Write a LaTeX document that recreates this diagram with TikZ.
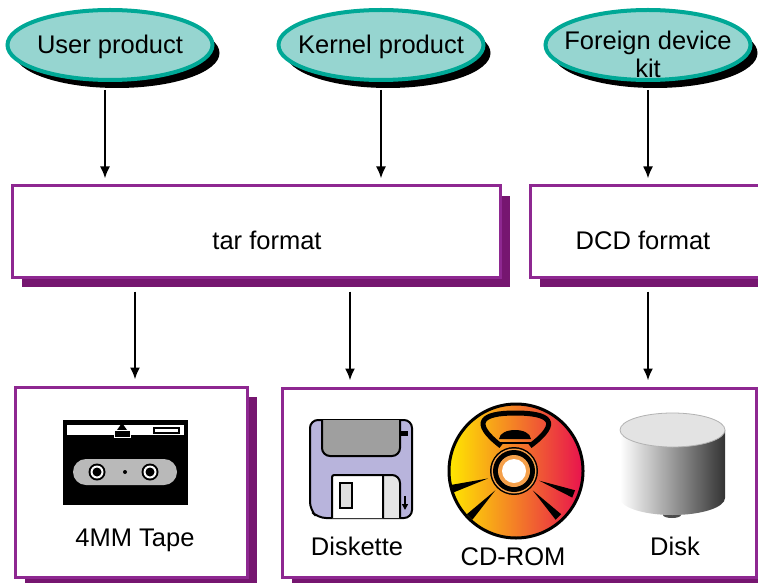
\documentclass[tikz,border=0pt]{standalone}
\usepackage{fontspec}
\setmainfont{Liberation Sans}
\usetikzlibrary{shapes.geometric,shadows,arrows.meta}
\definecolor{tealfill}{HTML}{96D5D0}
\definecolor{tealline}{HTML}{00A896}
\definecolor{boxline}{HTML}{8E2891}
\definecolor{boxshadow}{HTML}{761670}
\definecolor{diskblue}{HTML}{B8B4DC}
\definecolor{cdyellow}{HTML}{FFE800}
\definecolor{cdorange}{HTML}{F5A04A}
\definecolor{cdred}{HTML}{E8124E}
\tikzset{
  product/.style={ellipse, draw=tealline, fill=tealfill, line width=2pt,
    minimum width=102.5pt, minimum height=35pt, inner sep=0pt,
    drop shadow={shadow xshift=3.5pt, shadow yshift=-4pt, fill=black, opacity=1}},
  fmtbox/.style={rectangle, draw=boxline, fill=white, line width=1.5pt, inner sep=0pt,
    drop shadow={shadow xshift=5pt, shadow yshift=-5pt, fill=boxshadow, opacity=1}},
  arrtop/.style={line width=1pt, -{Latex[length=6pt,width=5pt]}, shorten <=4pt, shorten >=3pt},
  arrbot/.style={arrtop, shorten <=6.5pt}
}
\begin{document}
\begin{tikzpicture}[x=0.5pt,y=-0.5pt,font=\fontsize{12.75}{14}\selectfont]
    \clip (0,0) rectangle (758,582);
    \node[product] (user) at (110,45) {};
    \node[product] (kernel) at (381,45) {};
    \node[product] (foreign) at (648,45) {};
    \path   (110,47) node (usertxt) {User product}
            (381,47) node (kerneltxt) {Kernel product}
            (648,54) node[align=center] (foreigntxt) {Foreign device\\kit};

    \node[fmtbox, minimum width=244pt, minimum height=45.5pt] (tar) at (256,231.5) {};
    \node[fmtbox, minimum width=116pt, minimum height=45.5pt] (dcd) at (646,231.5) {};
    \path   (267,240) node (tartxt) {tar format}
            (643,240) node (dcdtxt) {DCD format};

    \node[fmtbox, minimum width=116pt, minimum height=95pt] (tape) at (131,482) {};
    \node[fmtbox, minimum width=237pt, minimum height=94.5pt] (media) at (519,482.5) {};
    \path   (135,540) node (tapelbl) {4MM Tape}
            (357,546) node (diskettelbl) {Diskette}
            (513,557) node (cdlbl) {CD-ROM}
            (675,546) node (disklbl) {Disk};

    \draw[arrtop] (user.south -| 105,0) -- (tar.north -| 105,0);
    \draw[arrtop] (kernel.south) -- (kernel.south |- tar.north);
    \draw[arrtop] (foreign.south) -- (foreign.south |- dcd.north);
    \draw[arrbot] (tar.south -| tapelbl) -- (tape.north -| tapelbl);
    \draw[arrbot] (tar.south -| 350,0) -- (media.north -| 350,0);
    \draw[arrbot] (dcd.south -| foreign) -- (media.north -| foreign);

    % tape
    \fill (63,420) rectangle (188,505);
    \fill[white] (67,425) rectangle (184,435);
    \fill (122,423) -- (127,430) -- (117,430) -- cycle;
    \filldraw[draw=white, line width=0.5pt] (114,430) rectangle (130,437);
    \draw[line width=1pt] (154,428) rectangle (179,433);
    \fill[gray!55, rounded corners=6.5pt] (73,459) rectangle (177,485);
    \foreach \x in {97,150} {
        \fill (\x,472) circle (8.5);
        \fill[white] (\x,472) circle (6.5);
        \fill (\x,472) circle (4.5);
    }
    \fill (125,472) circle (2);

    % diskette
    \filldraw[fill=diskblue, line width=1pt, rounded corners=4pt]
        (318,518) -- (310,510) -- (310,420) -- (412,420) -- (412,518) -- cycle;
    \filldraw[fill=gray!75, line width=1pt, rounded corners=4pt]
        (322,420) -- (322,456) -- (400,456) -- (400,420);
    \fill (401,431) rectangle (408,436);
    \filldraw[fill=gray!20, line width=1pt, rounded corners=4pt]
        (332,518) -- (332,475) -- (400,475) -- (400,518);
    \filldraw[fill=white, line width=1pt] (332,518) -- (332,480)
        .. controls (332,475) .. (337,475) -- (383,475) -- (383,518);
    \filldraw[fill=gray!25, line width=0.8pt] (340,483) rectangle (352,508);
    \draw[line width=0.8pt, -{Triangle[length=3pt,width=3pt]}] (405,496) -- (405,510);

    % cd
    \shade[left color=cdyellow, middle color=cdorange, right color=cdred] (516,471) circle (67);
    \draw[line width=2.5pt] (501,446) .. controls (470,422) and (482,413) .. (515,413)
        .. controls (550,413) and (562,422) .. (530,446);
    \fill (499,439) .. controls (500,427) and (530,427) .. (531,439) -- cycle;
    \draw[line width=0.6pt] (497,443) -- (533,443);
    \begin{scope}[shift={(514,471)}]
        \foreach \a in {164,134,21,46}
            \fill (\a:27) -- (\a-3.5:64) -- (\a+3.5:64) -- cycle;
        \fill (0,0) circle (24);
        \fill[cdorange] (0,0) circle (22.5);
        \fill (0,0) circle (21);
        \fill[cdorange] (0,0) circle (16);
        \fill[white] (0,0) circle (12);
    \end{scope}
    \draw[line width=1.5pt] (516,471) circle (67);

    % disk
    \fill[black!70] (672,515) ellipse (9 and 3);
    \shade[left color=white, middle color=gray!35, right color=gray!40!black]
        (620,430) -- (620,498) arc (180:0:52.5 and 17) -- (725,430) -- cycle;
    \filldraw[fill=gray!22, draw=gray!60] (672.5,430) ellipse (52.5 and 17);
\end{tikzpicture}
\end{document}
